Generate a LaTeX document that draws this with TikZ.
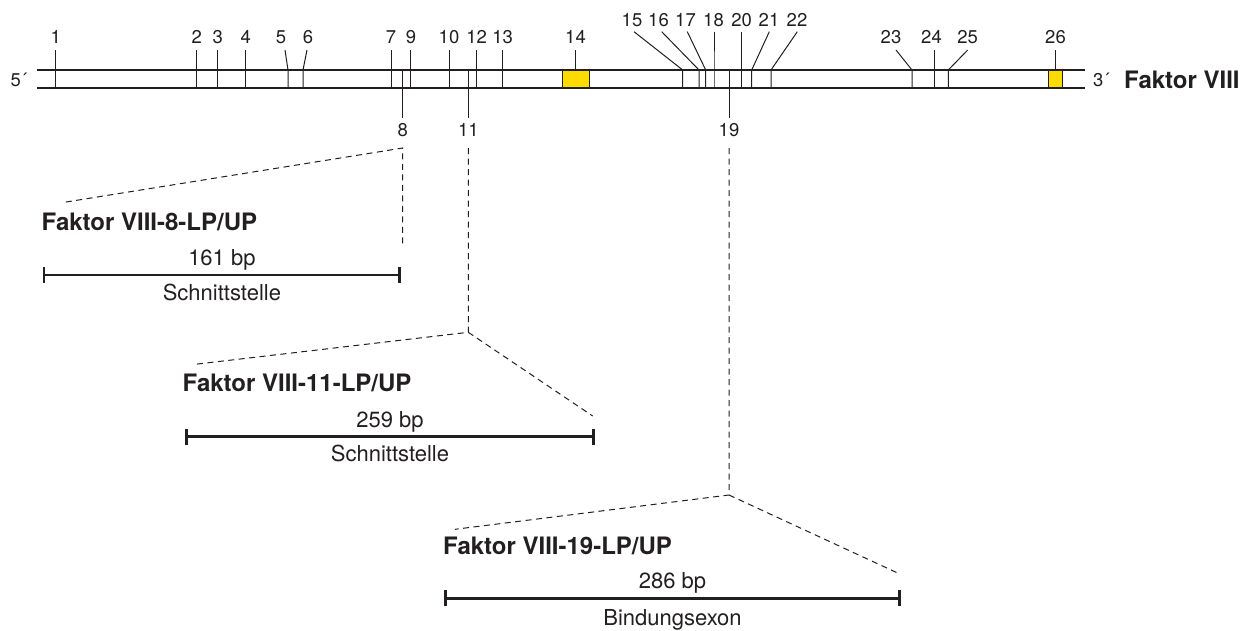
\documentclass[tikz,border=0pt]{standalone}
\usepackage{fontspec}
\setmainfont{TeX Gyre Heros}
\usetikzlibrary{arrows.meta}
\definecolor{exonyellow}{RGB}{252,220,0}
\definecolor{ink}{RGB}{35,31,32}
\begin{document}
\begin{tikzpicture}[x=1pt,y=-1pt,
  rail/.style={draw=ink,line width=2.2pt},
  exon/.style={draw=ink,line width=1pt},
  num/.style={font=\fontsize{18.5}{20}\selectfont,text=ink,inner sep=0pt,anchor=base},
  endlbl/.style={font=\fontsize{18.5}{20}\selectfont,text=ink,inner sep=0pt,anchor=base west},
  title/.style={font=\bfseries\fontsize{24}{28}\selectfont,text=ink,inner sep=0pt,anchor=base west},
  sizelbl/.style={font=\fontsize{22}{26}\selectfont,text=ink,inner sep=0pt,anchor=base},
  dashline/.style={draw=ink,line width=1pt,dash pattern=on 6pt off 4.5pt},
  scalebar/.style={draw=ink,line width=2.7pt,arrows={Bar[width=16pt]-Bar[width=16pt]}}]
\useasboundingbox (0,0) rectangle (1256,630);

% exons drawn as boxes (14, 26)
\draw[exon,fill=exonyellow] (562.3,70) rectangle (589.3,88);
\draw[exon,fill=exonyellow] (1048.3,70) rectangle (1062.7,88);
\coordinate (ex14t) at (575.8,70);
\coordinate (lt14) at (575.8,50);
\draw[exon] (ex14t) -- (lt14);
\node[num] (l14) at (575.5,43.3) {14};
\coordinate (ex26t) at (1055.5,70);
\coordinate (lt26) at (1055.5,50);
\draw[exon] (ex26t) -- (lt26);
\node[num] (l26) at (1055.5,43.3) {26};

% exon borders with straight leaders, lower label row
\foreach \x/\n in {55.7/1,196.7/2,217.7/3,245.7/4,391/7,410.5/9,449/10,476.7/12,502.7/13,934/24}{
  \coordinate (ex\n b) at (\x,88);
  \coordinate (lt\n) at (\x,50);
  \draw[exon] (ex\n b) -- (lt\n);
}
\foreach \x/\n in {55.7/1,196.7/2,217.7/3,245.7/4,391/7,411/9,449/10,476.7/12,502.7/13,931.5/24}{
  \node[num] (l\n) at (\x,43.3) {\n};
}

% exon borders with slanted leaders, lower label row
\foreach \x/\lx/\tx/\n in {288/285/281/5,303/307/308/6,912/896/891/23,948.3/967.7/967.7/25}{
  \coordinate (ex\n b) at (\x,88);
  \coordinate (ex\n t) at (\x,70);
  \coordinate (lt\n) at (\lx,50);
  \draw[exon] (ex\n b) -- (ex\n t) -- (lt\n);
  \node[num] (l\n) at (\tx,43.3) {\n};
}

% exon borders with leaders, upper label row
\foreach \x/\lx/\tx/\n in {682.7/634/632/15,699/661.7/658.5/16,705.7/687.3/685.5/17,714/714/713.5/18,741.7/741.7/741.7/20,751.7/769.3/769/21,771/797.3/797/22}{
  \coordinate (ex\n b) at (\x,88);
  \coordinate (ex\n t) at (\x,70);
  \coordinate (lt\n) at (\lx,31.7);
  \draw[exon] (ex\n b) -- (ex\n t) -- (lt\n);
  \node[num] (l\n) at (\tx,26) {\n};
}

% exons with leaders below the gene
\foreach \x/\n in {402.7/8,468.3/11,729/19}{
  \coordinate (ex\n t) at (\x,70);
  \coordinate (lb\n) at (\x,118);
  \draw[exon] (ex\n t) -- (lb\n);
  \node[num] (l\n) at (\x,136.5) {\n};
}

% gene rails
\coordinate (r5t) at (37,70);
\coordinate (r3t) at (1085,70);
\coordinate (r5b) at (37,88);
\coordinate (r3b) at (1085,88);
\draw[rail] (r5t) -- (r3t);
\draw[rail] (r5b) -- (r3b);
\node[endlbl] (p5) at (10.5,86.5) {5´};
\node[endlbl] (p3) at (1093,86.5) {3´};
\node[title] (gene) at (1124,88) {Faktor VIII};

% amplicon 8
\coordinate (j8) at (402.7,148);
\coordinate (e8) at (402.7,243.3);
\coordinate (f8) at (61.7,202.7);
\draw[dashline] (e8) -- (j8) -- (f8);
\node[title] (t8) at (41.5,230) {Faktor VIII-8-LP/UP};
\coordinate (a8) at (42.7,275);
\coordinate (b8) at (401,275);
\draw[scalebar] (a8) -- (b8);
\node[sizelbl] (s8) at (221.9,265) {161 bp};
\node[sizelbl] (d8) at (221.9,300) {Schnittstelle};

% amplicon 11
\coordinate (j11) at (468.3,148);
\coordinate (k11) at (468.3,332.3);
\coordinate (f11) at (195,364.3);
\coordinate (g11) at (592.7,416);
\draw[dashline] (j11) -- (k11) -- (f11);
\draw[dashline] (k11) -- (g11);
\node[title] (t11) at (182.5,391.7) {Faktor VIII-11-LP/UP};
\coordinate (a11) at (185,436.7);
\coordinate (b11) at (595,436.7);
\draw[scalebar] (a11) -- (b11);
\node[sizelbl] (s11) at (390,427) {259 bp};
\node[sizelbl] (d11) at (390,461.7) {Schnittstelle};

% amplicon 19
\coordinate (j19) at (729,148);
\coordinate (k19) at (729,495);
\coordinate (f19) at (455,529.3);
\coordinate (g19) at (898.3,573.3);
\draw[dashline] (j19) -- (k19) -- (f19);
\draw[dashline] (k19) -- (g19);
\node[title] (t19) at (443,554.3) {Faktor VIII-19-LP/UP};
\coordinate (a19) at (444,598.3);
\coordinate (b19) at (901,598.3);
\draw[scalebar] (a19) -- (b19);
\node[sizelbl] (s19) at (672.5,588.3) {286 bp};
\node[sizelbl] (d19) at (672.5,625.5) {Bindungsexon};
\end{tikzpicture}
\end{document}
